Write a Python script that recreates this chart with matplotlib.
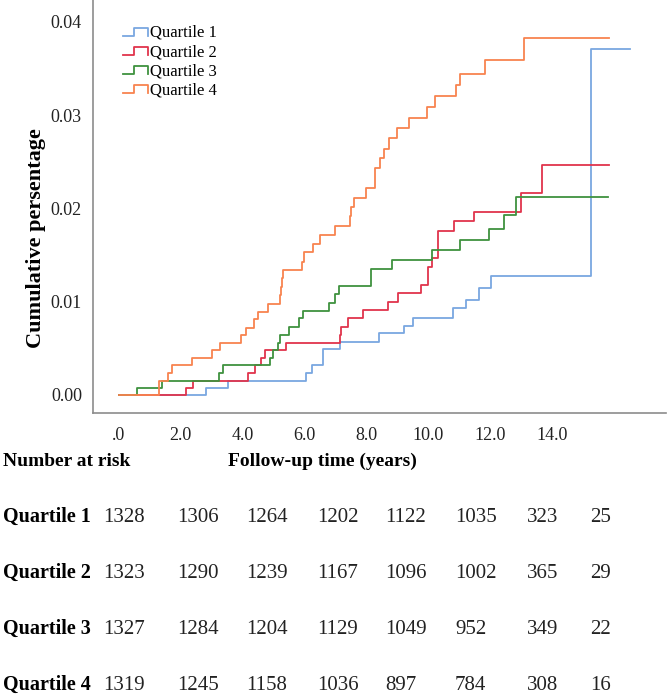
import matplotlib
matplotlib.use("Agg")
import matplotlib.pyplot as plt
from matplotlib.lines import Line2D
from matplotlib.legend_handler import HandlerBase

plt.rcParams['font.family'] = ['Liberation Serif', 'DejaVu Serif']

# ---------------- data ----------------
labels = ["Quartile 1", "Quartile 2", "Quartile 3", "Quartile 4"]
colors = ["#7aa7e0", "#e0344c", "#3f923f", "#f8834f"]

q1_t = [0, 2.82, 3.53, 6.04, 6.26, 6.59, 6.61, 7.15, 8.40, 9.22, 9.53, 10.81, 11.24, 11.64, 12.03, 15.28, 16.52]
q1_y = [0, 0.00076, 0.00155, 0.00234, 0.0032, 0.0040, 0.0049, 0.0057, 0.0066, 0.0074, 0.0083, 0.0093, 0.0102, 0.0115, 0.0128, 0.0371, 0.0371]

q2_t = [0, 2.18, 2.40, 4.17, 4.41, 4.61, 4.73, 5.39, 7.15, 7.17, 7.41, 7.90, 8.71, 9.02, 9.77, 9.99, 10.0, 10.13, 10.32, 10.85, 11.48, 13.02, 13.70, 15.87]
q2_y = [0, 0.00076, 0.00155, 0.00234, 0.0032, 0.0040, 0.0048, 0.0056, 0.0064, 0.0073, 0.0082, 0.0091, 0.0100, 0.0109, 0.0118, 0.0128, 0.0137, 0.0147, 0.0176, 0.0186, 0.0196, 0.0217, 0.0246, 0.0246]

q3_t = [0, 0.59, 1.40, 3.24, 3.36, 4.90, 4.97, 5.13, 5.21, 5.50, 5.82, 5.97, 6.80, 6.98, 7.11, 8.15, 8.16, 8.82, 10.13, 11.02, 11.96, 12.45, 12.86, 15.82]
q3_y = [0, 0.00076, 0.00155, 0.00234, 0.0032, 0.0040, 0.0048, 0.0056, 0.0064, 0.0073, 0.0082, 0.0090, 0.0099, 0.0108, 0.0117, 0.0126, 0.0135, 0.0145, 0.0155, 0.0166, 0.0178, 0.0193, 0.0212, 0.0212]

q4_t = [0, 1.29, 1.30, 1.59, 1.70, 2.35, 3.00, 3.28, 3.94, 4.11, 4.36, 4.51, 4.83, 5.21, 5.24, 5.27, 5.31, 5.93, 6.00, 6.28, 6.50, 7.00, 7.46, 7.52, 7.61, 8.00, 8.27, 8.28, 8.43, 8.57, 8.75, 8.99, 9.38, 9.96, 10.22, 10.92, 11.02, 11.83, 13.10, 13.11, 15.87]
q4_y = [0, 0.00076, 0.00155, 0.00238, 0.0032, 0.0040, 0.0048, 0.0056, 0.0064, 0.0072, 0.0081, 0.0089, 0.0098, 0.0107, 0.0116, 0.0125, 0.0134, 0.0143, 0.0153, 0.0162, 0.0171, 0.0181, 0.0192, 0.0202, 0.0211, 0.0222, 0.0233, 0.0243, 0.0254, 0.0264, 0.0275, 0.0286, 0.0297, 0.0309, 0.0320, 0.0332, 0.0344, 0.0359, 0.0371, 0.0383, 0.0383]

x_ticks = [0, 2, 4, 6, 8, 10, 12, 14]
x_tick_labels = [".0", "2.0", "4.0", "6.0", "8.0", "10.0", "12.0", "14.0"]
y_ticks = [0.00, 0.01, 0.02, 0.03, 0.04]
y_tick_labels = ["0.00", "0.01", "0.02", "0.03", "0.04"]

risk_q1 = [1328, 1306, 1264, 1202, 1122, 1035, 323, 25]
risk_q2 = [1323, 1290, 1239, 1167, 1096, 1002, 365, 29]
risk_q3 = [1327, 1284, 1204, 1129, 1049, 952, 349, 22]
risk_q4 = [1319, 1245, 1158, 1036, 897, 784, 308, 16]

# ---------------- figure ----------------
W, H = 667, 696
fig = plt.figure(figsize=(W / 100, H / 100), dpi=100)
ax = fig.add_axes([93 / W, 1 - 413 / H, (666 - 93) / W, 413 / H])

series = [(q1_t, q1_y), (q2_t, q2_y), (q3_t, q3_y), (q4_t, q4_y)]
handles = []
for (t, y), c, lab in zip(series, colors, labels):
    ln, = ax.step(t, y, where="post", color=c, lw=1.3, label=lab)
    handles.append(ln)

ax.set_xlim(-0.84, 17.7)
ax.set_ylim(-0.00193, 0.04234)
ax.set_xticks(x_ticks)
ax.set_xticklabels(x_tick_labels, fontsize=13)
ax.set_yticks(y_ticks)
ax.set_yticklabels(y_tick_labels, fontsize=13)
ax.tick_params(length=0, pad=8, colors="#222222")
ax.tick_params(axis="x", pad=10)
for s in ["top", "right"]:
    ax.spines[s].set_visible(False)
for s in ["left", "bottom"]:
    ax.spines[s].set_color("#8c8c8c")
    ax.spines[s].set_linewidth(1.2)

ax.set_ylabel("Cumulative persentage", fontsize=16, fontweight="bold")
ax.yaxis.set_label_coords(-0.082, 0.424)


class StepHandler(HandlerBase):
    def create_artists(self, legend, orig_handle, xdescent, ydescent, width, height, fontsize, trans):
        lo = -ydescent + 0.1 * height
        hi = -ydescent + 0.8 * height
        x0 = -xdescent
        xs = [x0, x0 + 0.45 * width, x0 + 0.45 * width, x0 + width, x0 + width]
        ys = [lo, lo, hi, hi, lo]
        l = Line2D(xs, ys, color=orig_handle.get_color(), lw=1.3, transform=trans)
        return [l]


leg = ax.legend(handles, labels, loc="upper left", bbox_to_anchor=(0.04, 0.956), frameon=False,
                fontsize=12, handler_map={Line2D: StepHandler()}, handlelength=1.5,
                handletextpad=0.15, labelspacing=0.19, borderaxespad=0)

# ---------------- number at risk table ----------------
def ftxt(x, y, s, **kw):
    fig.text(x / W, 1 - y / H, s, va="center", **kw)

ftxt(322, 461, "Follow-up time (years)", ha="center", fontsize=14, fontweight="bold")
ftxt(3, 461, "Number at risk", ha="left", fontsize=14, fontweight="bold")

col_x = [103, 177, 246, 317, 385, 455, 527, 590]
row_y = [517, 573, 629, 685]
for lab, vals, yy in zip(labels, [risk_q1, risk_q2, risk_q3, risk_q4], row_y):
    ftxt(3, yy, lab, ha="left", fontsize=14.5, fontweight="bold")
    for xx, v in zip(col_x, vals):
        ftxt(xx, yy, str(v), ha="left", fontsize=15, color="#222222")

fig.savefig("out.png", dpi=100)
